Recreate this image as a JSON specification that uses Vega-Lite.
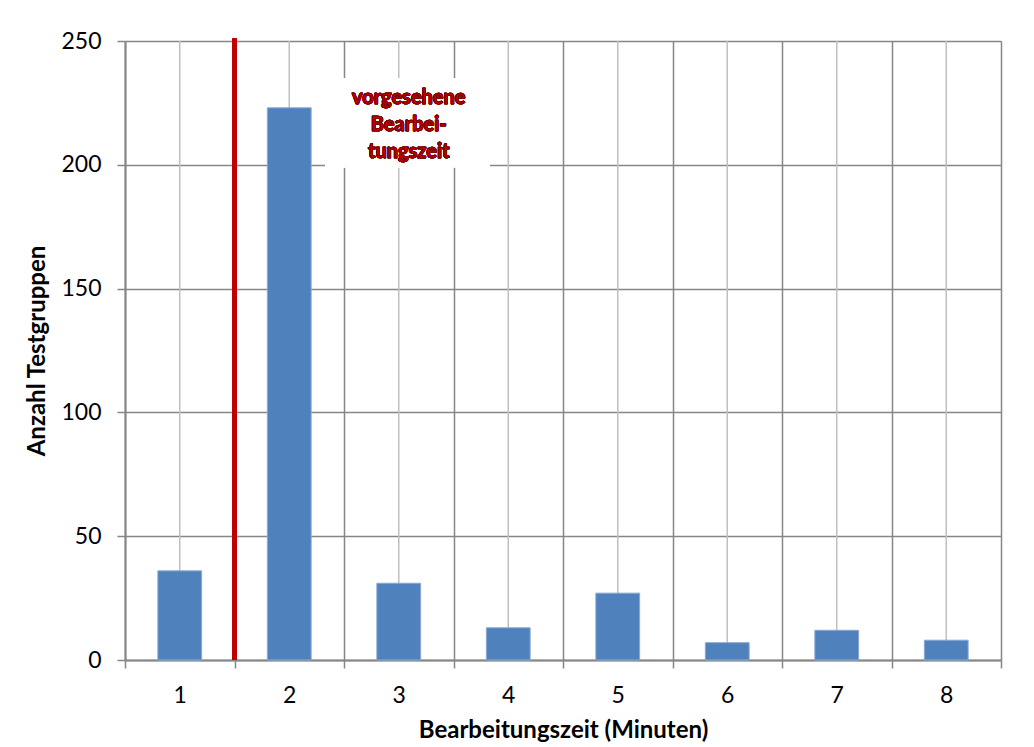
{
  "$schema": "https://vega.github.io/schema/vega-lite/v6.json",
  "autosize": "none",
  "width": 876,
  "height": 619,
  "padding": {"left": 125, "top": 41, "right": 33, "bottom": 87},
  "background": "white",
  "config": {
    "font": "Lato",
    "view": {"stroke": null},
    "axis": {
      "labelFont": "Lato",
      "titleFont": "Lato",
      "labelColor": "#000000",
      "titleColor": "#000000",
      "domainColor": "#868686",
      "tickColor": "#868686",
      "gridColor": "#868686",
      "domainWidth": 2,
      "tickWidth": 1.5,
      "gridWidth": 1.5,
      "gridOpacity": 1
    }
  },
  "data": {
    "values": [
      {"minuten": "1", "anzahl": 36},
      {"minuten": "2", "anzahl": 223},
      {"minuten": "3", "anzahl": 31},
      {"minuten": "4", "anzahl": 13},
      {"minuten": "5", "anzahl": 27},
      {"minuten": "6", "anzahl": 7},
      {"minuten": "7", "anzahl": 12},
      {"minuten": "8", "anzahl": 8}
    ]
  },
  "encoding": {
    "x": {
      "field": "minuten",
      "type": "ordinal",
      "sort": null,
      "scale": {"paddingInner": 0, "paddingOuter": 0},
      "axis": {
        "title": "Bearbeitungszeit (Minuten)",
        "titleFontSize": 24,
        "titleFontWeight": "bold",
        "titlePadding": 11,
        "labelFontSize": 23,
        "labelAngle": 0,
        "labelPadding": 16,
        "tickBand": "extent",
        "tickSize": 8,
        "grid": true
      }
    }
  },
  "layer": [
    {
      "mark": {"type": "rule", "color": "#c0c0c0", "strokeWidth": 1.5},
      "encoding": {}
    },
    {
      "mark": {"type": "bar", "color": "#4f81bd", "stroke": "#8aa9d6", "strokeWidth": 1, "width": {"band": 0.4}},
      "encoding": {
        "y": {
          "field": "anzahl",
          "type": "quantitative",
          "scale": {"domain": [0, 250], "nice": false},
          "axis": {
            "title": "Anzahl Testgruppen",
            "titleFontSize": 24,
            "titleFontWeight": "bold",
            "titlePadding": 11,
            "labelFontSize": 23,
            "labelPadding": 16,
            "tickSize": 8,
            "values": [0, 50, 100, 150, 200, 250],
            "grid": true
          }
        }
      }
    },
    {
      "mark": {"type": "rule", "color": "#c00000", "strokeWidth": 4},
      "encoding": {
        "x": {"datum": "2", "type": "ordinal", "bandPosition": 0},
        "y": {"datum": 0, "type": "quantitative", "scale": {"domain": [0, 250], "nice": false}},
        "y2": {"datum": 251}
      }
    },
    {
      "mark": {"type": "rect", "color": "white"},
      "encoding": {
        "x": {"datum": "2", "type": "ordinal", "bandPosition": 0.83},
        "x2": {"datum": "4", "bandPosition": 0.33},
        "y": {"datum": 235, "type": "quantitative", "scale": {"domain": [0, 250], "nice": false}},
        "y2": {"datum": 199}
      }
    },
    {
      "mark": {
        "type": "text",
        "text": "vorgesehene\nBearbei-\ntungszeit",
        "lineBreak": "\n",
        "lineHeight": 27,
        "align": "center",
        "baseline": "middle",
        "dx": 10,
        "font": "Lato",
        "fontSize": 20,
        "fontWeight": "bold",
        "fill": "#c00000",
        "stroke": "#6e0000",
        "strokeWidth": 0.6
      },
      "encoding": {
        "x": {"datum": "3", "type": "ordinal"},
        "y": {"datum": 227, "type": "quantitative", "scale": {"domain": [0, 250], "nice": false}}
      }
    }
  ]
}
